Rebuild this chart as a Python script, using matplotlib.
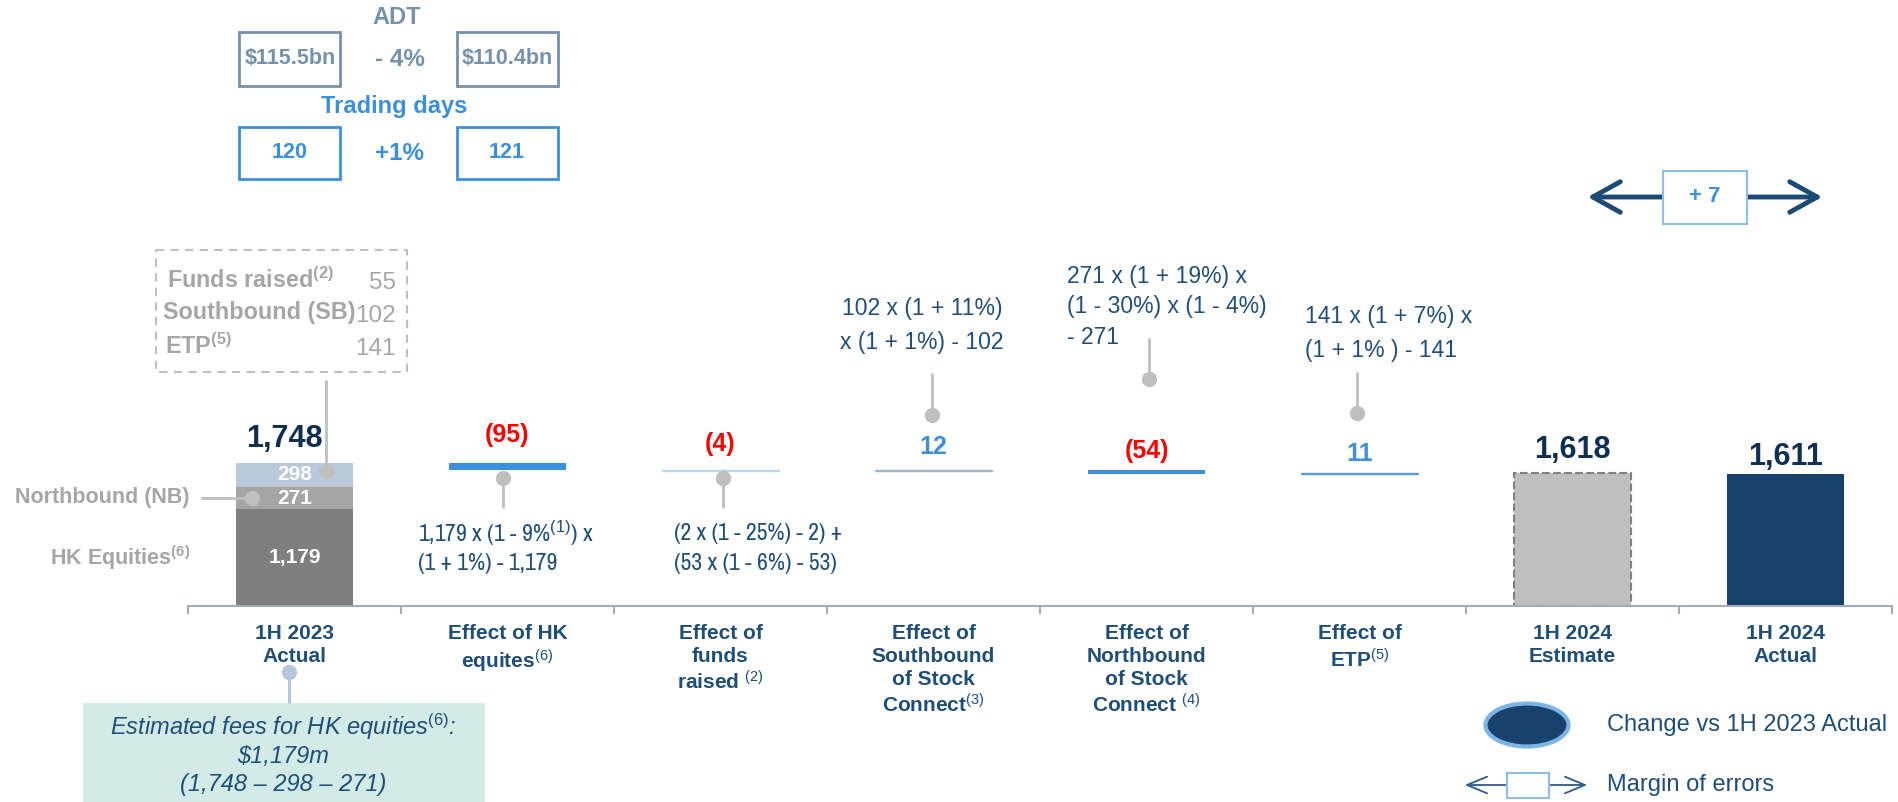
import matplotlib
matplotlib.use("Agg")
import matplotlib.pyplot as plt
from matplotlib import font_manager
from matplotlib.patches import Rectangle, Ellipse, FancyArrowPatch

W, H = 1898, 802

# ---- data ----
categories = [
    "1H 2023\nActual",
    "Effect of HK\nequites$^{\\mathrm{(6)}}$",
    "Effect of\nfunds\nraised $^{\\mathrm{(2)}}$",
    "Effect of\nSouthbound\nof Stock\nConnect$^{\\mathrm{(3)}}$",
    "Effect of\nNorthbound\nof Stock\nConnect $^{\\mathrm{(4)}}$",
    "Effect of\nETP$^{\\mathrm{(5)}}$",
    "1H 2024\nEstimate",
    "1H 2024\nActual",
]
start_parts = [1179, 271, 298]          # HK equities, Northbound, others
effects = [-95, -4, 12, -54, 11]        # HK, funds raised, SB, NB, ETP
estimate_1h24 = 1618
actual_1h24 = 1611

others_names = ["Funds raised$^{\\mathbf{(2)}}$", "Southbound (SB)", "ETP$^{\\mathbf{(5)}}$"]
others_values = [55, 102, 141]

adt_values = ["$115.5bn", "$110.4bn"]
adt_change = "- 4%"
trading_days = [120, 121]
days_change = "+1%"
margin_of_error = 7

hk_formula = ["1,179 x (1 - 9%$^{\\mathrm{(1)}}$) x", "(1 + 1%) - 1,179"]
funds_formula = ["(2 x (1 - 25%) - 2) +", "(53 x (1 - 6%) - 53)"]
sb_formula = ["102 x (1 + 11%)", "x (1 + 1%) - 102"]
nb_formula = ["271 x (1 + 19%) x", "(1 - 30%) x (1 - 4%)", "- 271"]
etp_formula = ["141 x (1 + 7%) x", "(1 + 1% ) - 141"]

# ---- styling ----
plt.rcParams["font.family"] = ["Liberation Sans", "DejaVu Sans"]
plt.rcParams["mathtext.fontset"] = "custom"
plt.rcParams["mathtext.rm"] = "Liberation Sans"
plt.rcParams["mathtext.it"] = "Liberation Sans:italic"
plt.rcParams["mathtext.bf"] = "Liberation Sans:bold"

# a narrow face for the two left formulas, if one is installed
narrow = None
for f in font_manager.fontManager.ttflist:
    if ("Narrow" in f.name or "Condensed" in f.name) and "DejaVu" not in f.name:
        narrow = f.name
        break
NARROW_KW = {"family": narrow, "fontsize": 17} if narrow else {"fontsize": 14}

NAVY = "#1f4e79"
DARK = "#0e2f52"
BLUE = "#3c8fdd"
RED = "#ff0000"
GREY_TXT = "#a6a6a6"
DOT = "#bfbfbf"
SLATE = "#7592ab"
AXIS = "#a3acbb"

fig = plt.figure(figsize=(W / 100, H / 100), dpi=100)

# main chart axes: baseline at pixel row 606, categories 213 px apart
base_row = 606
px_per_unit = 0.082
ax = fig.add_axes([188 / W, 1 - base_row / H, (1892 - 188) / W, base_row / H])
ax.set_xlim(-0.5, len(categories) - 0.5)
ax.set_ylim(0, base_row / px_per_unit)
for s in ["top", "left", "right"]:
    ax.spines[s].set_visible(False)
ax.spines["bottom"].set_color(AXIS)
ax.spines["bottom"].set_linewidth(1.5)
ax.set_yticks([])
ax.set_xticks(range(len(categories)))
ax.set_xticklabels(categories, fontsize=15, fontweight="bold", color=NAVY, linespacing=1.25)
ax.tick_params(axis="x", which="major", length=0, pad=13)
ax.set_xticks([i - 0.5 for i in range(len(categories) + 1)], minor=True)
ax.tick_params(axis="x", which="minor", length=6, width=1.5, color=AXIS, direction="out")
ax.patch.set_visible(False)

bw = 0.55

# starting stacked bar
part_colors = ["#7f7f7f", "#a5a5a5", "#b9c9d9"]
bottom = 0
for val, col in zip(start_parts, part_colors):
    ax.bar(0, val, bottom=bottom, width=bw, color=col, linewidth=0)
    ax.text(0, bottom + val / 2, f"{val:,}", ha="center", va="center",
            color="white", fontsize=15, fontweight="bold")
    bottom += val
total_1h23 = bottom
ax.annotate(f"{total_1h23:,}", (0, total_1h23), xytext=(-10, 24), textcoords="offset pixels",
            ha="center", va="center", fontsize=22, fontweight="bold", color=DARK)

# effect bars
eff_colors = [BLUE, "#bdd7ee", "#9fb6cf", BLUE, "#5b9bd5"]
eff_lw = [0, 1.0, 1.0, 0, 1.0]
eff_off = [28, 26, 23, 19, 19]
running = total_1h23
for i, e in enumerate(effects):
    x = i + 1
    ax.bar(x, abs(e), bottom=running + min(e, 0), width=bw, color=eff_colors[i],
           edgecolor=eff_colors[i], linewidth=eff_lw[i])
    top = max(running, running + e)
    lab = f"({abs(e)})" if e < 0 else f"{e}"
    ax.annotate(lab, (x, top), xytext=(0, eff_off[i]), textcoords="offset pixels",
                ha="center", va="center", fontsize=18, fontweight="bold",
                color=RED if e < 0 else BLUE)
    running += e

ax.bar(6, estimate_1h24, width=bw, color="#bfbfbf", edgecolor="#808080",
       linestyle="--", linewidth=1.5)
ax.annotate(f"{estimate_1h24:,}", (6, estimate_1h24), xytext=(0, 23), textcoords="offset pixels",
            ha="center", va="center", fontsize=22, fontweight="bold", color=DARK)
ax.bar(7, actual_1h24, width=bw, color="#17406a", linewidth=0)
ax.annotate(f"{actual_1h24:,}", (7, actual_1h24), xytext=(0, 17), textcoords="offset pixels",
            ha="center", va="center", fontsize=22, fontweight="bold", color=DARK)

# overlay in pixel coordinates for annotations
ov = fig.add_axes([0, 0, 1, 1])
ov.set_xlim(0, W)
ov.set_ylim(H, 0)
ov.axis("off")
ov.patch.set_visible(False)


def txt(x, y, s, ha="center", va="center", **kw):
    ov.text(x, y, s, ha=ha, va=va, **kw)


def box(x0, y0, x1, y1, ec, lw=2, **kw):
    ov.add_patch(Rectangle((x0, y0), x1 - x0, y1 - y0, fill=False, ec=ec, lw=lw, **kw))


def pin(x, y0, y1, dot_y, color=DOT, lw=2):
    ov.plot([x, x], [y0, y1], color=color, lw=lw, solid_capstyle="butt")
    ov.plot([x], [dot_y], "o", color=color, ms=11, mec="none")


# ADT / trading days boxes
txt(397, 18, "ADT", fontsize=17, fontweight="bold", color=SLATE)
box(239, 32, 340, 86, SLATE)
box(457, 32, 558, 86, SLATE)
txt(290, 59, adt_values[0], fontsize=15.5, fontweight="bold", color=SLATE)
txt(400, 60, adt_change, fontsize=17.5, fontweight="bold", color=SLATE)
txt(507, 59, adt_values[1], fontsize=15.5, fontweight="bold", color=SLATE)

txt(394, 107, "Trading days", fontsize=17, fontweight="bold", color=BLUE)
box(239, 127, 340, 179, BLUE)
box(457, 127, 558, 179, BLUE)
txt(290, 153, f"{trading_days[0]}", fontsize=15.5, fontweight="bold", color=BLUE)
txt(400, 154, days_change, fontsize=17.5, fontweight="bold", color=BLUE)
txt(507, 153, f"{trading_days[1]}", fontsize=15.5, fontweight="bold", color=BLUE)

# margin of error arrow
ov.add_patch(FancyArrowPatch((1585, 197), (1825, 197), arrowstyle="<->,head_length=0.9,head_width=0.5",
                             mutation_scale=22, lw=3.5, color="#1b4a72", zorder=3))
ov.add_patch(Rectangle((1663, 171), 84, 53, fc="white", ec="#8cbdeb", lw=1.5, zorder=4))
txt(1705, 197, f"+ {margin_of_error}", fontsize=16, fontweight="bold", color=BLUE, zorder=5)

# dashed breakdown box of "others"
box(156, 250, 407, 372, DOT, lw=1.5, linestyle=(0, (4, 3)))
row_y = [280, 313, 346]
row_x = [167, 163, 165]
for nm, v, yy, xx in zip(others_names, others_values, row_y, row_x):
    txt(xx, yy, nm, ha="left", fontsize=16.8, fontweight="bold", color=GREY_TXT)
    txt(396, yy + 3, f"{v}", ha="right", fontsize=17.5, color=GREY_TXT)
pin(326, 380, 471, 471)

# left side labels
txt(190, 498, "Northbound (NB)", ha="right", fontsize=15.5, fontweight="bold", color=GREY_TXT)
ov.plot([202, 252], [498, 498], color=DOT, lw=2)
ov.plot([252], [498], "o", color=DOT, ms=11, mec="none")
txt(190, 558, "HK Equities$^{\\mathbf{(6)}}$", ha="right", fontsize=15.5, fontweight="bold", color=GREY_TXT)

# formulas
pin(503, 478, 508, 478)
for k, line in enumerate(hk_formula):
    txt(418, 533 + 31 * k, line, ha="left", color=NAVY, **NARROW_KW)
pin(723, 478, 508, 478)
for k, line in enumerate(funds_formula):
    txt(674, 533 + 31 * k, line, ha="left", color=NAVY, **NARROW_KW)
for k, line in enumerate(sb_formula):
    txt(922, 308 + 34 * k, line, fontsize=16.5, color=NAVY)
pin(932, 373, 415, 415)
for k, line in enumerate(nb_formula):
    txt(1067, 276 + 31 * k, line, ha="left", fontsize=16.5, color=NAVY)
pin(1149, 338, 379, 379)
for k, line in enumerate(etp_formula):
    txt(1305, 317 + 33 * k, line, ha="left", fontsize=16.5, color=NAVY)
pin(1357, 372, 413, 413)

# bottom-left note
ov.add_patch(Rectangle((83, 703), 402, 110, fc="#d3ebe6", ec="none"))
pin(289, 672, 703, 672, color="#b4c7dc", lw=2.2)
txt(283, 727, "Estimated fees for HK equities$^{\\mathit{(6)}}$:", fontsize=17, style="italic", color=NAVY)
txt(283, 756, "$1,179m", fontsize=17, style="italic", color=NAVY)
txt(283, 785, "(1,748 \u2013 298 \u2013 271)", fontsize=17, style="italic", color=NAVY)

# legend
ov.add_patch(Ellipse((1527, 725), 83, 43, fc="#17426b", ec="#7db4e6", lw=3))
txt(1607, 725, "Change vs 1H 2023 Actual", ha="left", fontsize=17, color=NAVY)
ov.add_patch(FancyArrowPatch((1462, 785), (1590, 785), arrowstyle="<->,head_length=1.2,head_width=0.5",
                             mutation_scale=12, lw=1.3, color="#2e5c88", zorder=3))
ov.add_patch(Rectangle((1507, 773), 42, 25, fc="white", ec="#8cbdeb", lw=1.5, zorder=4))
txt(1607, 785, "Margin of errors", ha="left", fontsize=17, color=NAVY)

fig.savefig("out.png", dpi=100)
